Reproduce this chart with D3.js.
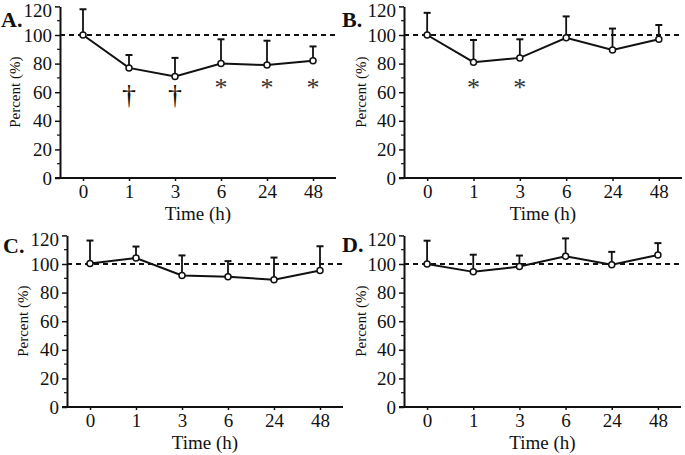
<!DOCTYPE html>
<html>
<head>
<meta charset="utf-8">
<script src="https://cdn.jsdelivr.net/npm/d3@7"></script>
<style>
  html, body { margin: 0; padding: 0; background: #fff; }
  svg { display: block; font-family: "Liberation Serif", "Times New Roman", serif; }
</style>
</head>
<body>
<svg id="chart" width="685" height="455"></svg>
<script>
// ---- data ----
const times = ["0", "1", "3", "6", "24", "48"];
const yTicks = [0, 20, 40, 60, 80, 100, 120];
const panelLabels = ["A.", "B.", "C.", "D."];

const meanA = [100, 77, 71, 80, 79, 82];
const sdA   = [18, 9, 13, 17, 17, 10];
const sigA  = ["", "†", "†", "*", "*", "*"];

const meanB = [100, 81, 84, 98, 89.5, 97];
const sdB   = [15.5, 15.5, 13, 15, 15, 10];
const sigB  = ["", "*", "*", "", "", ""];

const meanC = [100.4, 104.2, 92, 91, 89, 95.4];
const sdC   = [16, 8, 14, 11, 15.5, 17];
const sigC  = ["", "", "", "", "", ""];

const meanD = [100, 94.5, 98.2, 105.4, 99.5, 106.3];
const sdD   = [16.3, 12, 7.7, 12.5, 9, 8.3];
const sigD  = ["", "", "", "", "", ""];

const reference = 100;

// ---- layout ----
const panels = [
  { label: panelLabels[0], mean: meanA, sd: sdA, sig: sigA, x0: 60,  x1: 336, y0: 178, lx: 1,   ly: 27,  yl: 17 },
  { label: panelLabels[1], mean: meanB, sd: sdB, sig: sigB, x0: 404, x1: 682, y0: 178, lx: 342, ly: 27,  yl: 363 },
  { label: panelLabels[2], mean: meanC, sd: sdC, sig: sigC, x0: 67,  x1: 343, y0: 407, lx: 3,   ly: 253, yl: 25 },
  { label: panelLabels[3], mean: meanD, sd: sdD, sig: sigD, x0: 404, x1: 681, y0: 407, lx: 342, ly: 252, yl: 363 }
];

const svg = d3.select("#chart");
const ink = "#111";
const serif = "Liberation Serif, Times New Roman, serif";

panels.forEach(p => {
  const g = svg.append("g");
  const x = d3.scalePoint().domain(times).range([p.x0, p.x1]).padding(0.5);
  const y = d3.scaleLinear().domain([0, 120]).range([p.y0, p.y0 - 171.6]);

  // dashed reference line
  g.append("line")
    .attr("x1", p.x0).attr("x2", p.x1)
    .attr("y1", y(reference)).attr("y2", y(reference))
    .attr("stroke", ink).attr("stroke-width", 2)
    .attr("stroke-dasharray", "5,4");

  // y axis
  const yAxis = d3.axisLeft(y).tickValues(yTicks).tickSize(5).tickPadding(3).tickSizeOuter(0);
  const ya = g.append("g").attr("transform", `translate(${p.x0},0)`).call(yAxis);
  ya.attr("font-family", serif);
  ya.select(".domain").attr("stroke", ink).attr("stroke-width", 2);
  ya.selectAll(".tick line").attr("stroke", ink).attr("stroke-width", 1.5);
  ya.selectAll(".tick text").attr("font-size", 19).attr("fill", ink)
    .attr("dy", d => d === 120 ? "0.55em" : "0.32em");
  // minor ticks
  const minor = d3.range(10, 120, 20);
  g.selectAll(".minor").data(minor).enter().append("line")
    .attr("x1", p.x0 - 3).attr("x2", p.x0)
    .attr("y1", d => y(d)).attr("y2", d => y(d))
    .attr("stroke", ink).attr("stroke-width", 1.2);

  // x axis
  const xAxis = d3.axisBottom(x).tickSize(3).tickPadding(4).tickSizeOuter(0);
  const xa = g.append("g").attr("transform", `translate(0,${p.y0})`).call(xAxis);
  xa.attr("font-family", serif);
  xa.select(".domain").attr("stroke", ink).attr("stroke-width", 2)
    .attr("d", `M${p.x0 - 5},0H${p.x1}`);
  xa.selectAll(".tick line").attr("stroke", ink).attr("stroke-width", 1.5);
  xa.selectAll(".tick text").attr("font-size", 19).attr("fill", ink);

  // axis titles
  g.append("text")
    .attr("x", (p.x0 + p.x1) / 2).attr("y", p.y0 + 42)
    .attr("text-anchor", "middle").attr("font-size", 19).attr("fill", ink)
    .text("Time (h)");
  g.append("text")
    .attr("transform", `translate(${p.yl},${y(60)}) rotate(-90)`)
    .attr("text-anchor", "middle").attr("dominant-baseline", "middle")
    .attr("font-size", 15).attr("fill", ink)
    .text("Percent (%)");

  // panel label
  g.append("text").attr("x", p.lx).attr("y", p.ly)
    .attr("font-size", 22).attr("font-weight", "bold").attr("fill", ink)
    .text(p.label);

  const pts = times.map((t, i) => ({ t, m: p.mean[i], s: p.sd[i], sig: p.sig[i] }));

  // error bars (upper only)
  g.selectAll(".err").data(pts).enter().append("line")
    .attr("x1", d => x(d.t)).attr("x2", d => x(d.t))
    .attr("y1", d => y(d.m)).attr("y2", d => y(d.m + d.s))
    .attr("stroke", ink).attr("stroke-width", 1.8);
  g.selectAll(".cap").data(pts).enter().append("line")
    .attr("x1", d => x(d.t) - 3.5).attr("x2", d => x(d.t) + 3.5)
    .attr("y1", d => y(d.m + d.s)).attr("y2", d => y(d.m + d.s))
    .attr("stroke", ink).attr("stroke-width", 2);

  // line
  g.append("path").datum(pts)
    .attr("fill", "none").attr("stroke", ink).attr("stroke-width", 2)
    .attr("d", d3.line().x(d => x(d.t)).y(d => y(d.m)));

  // points
  g.selectAll(".pt").data(pts).enter().append("circle")
    .attr("cx", d => x(d.t)).attr("cy", d => y(d.m)).attr("r", 3)
    .attr("fill", "#fff").attr("stroke", ink).attr("stroke-width", 1.5);

  // significance markers
  g.selectAll(".sig").data(pts.filter(d => d.sig === "*")).enter().append("text")
    .attr("x", d => x(d.t)).attr("y", y(68) + 15)
    .attr("text-anchor", "middle").attr("font-size", 26).attr("fill", "#333")
    .text(d => d.sig);
  g.selectAll(".dag").data(pts.filter(d => d.sig === "†")).enter().append("text")
    .attr("x", d => x(d.t)).attr("y", y(58) + 9)
    .attr("text-anchor", "middle").attr("font-size", 28).attr("fill", "#111")
    .text(d => d.sig);
});
</script>
</body>
</html>
